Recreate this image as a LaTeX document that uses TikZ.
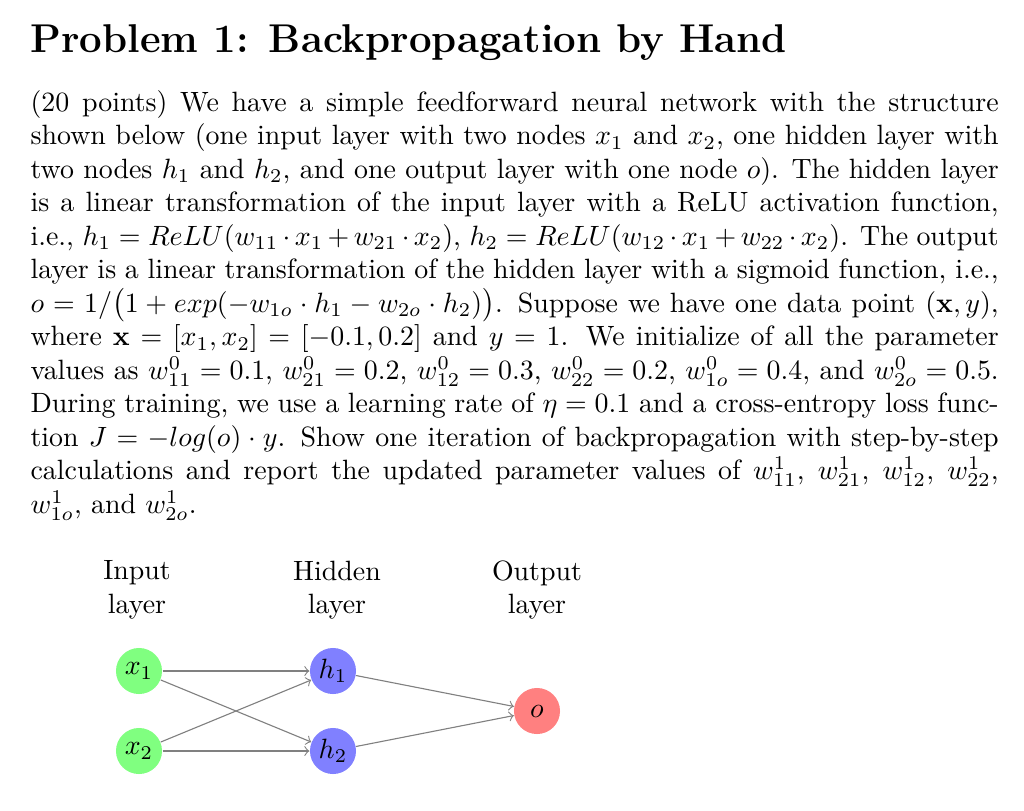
\documentclass[tikz,border=0pt]{standalone}
\usepackage{amsmath}
\begin{document}
\begin{tikzpicture}[x=0.3584pt,y=-0.3584pt,
  neuron/.style={circle,minimum size=16.5pt,inner sep=0pt},
  inp/.style={neuron,fill=green!50},
  hid/.style={neuron,fill=blue!50},
  outp/.style={neuron,fill=red!50},
  conn/.style={->,gray,line width=0.4pt},
  lbl/.style={align=center,font=\normalsize}]
\useasboundingbox (0,0) rectangle (1024,810);
\node[anchor=base west,inner sep=0pt,font=\Large\bfseries] (title) at (30,52) {Problem 1: Backpropagation by Hand};
\node[anchor=north west,inner sep=0pt,text width=347pt,align=justify] (body) at (30,90) {%
(20 points) We have a simple feedforward neural network with the structure\linebreak
shown below (one input layer with two nodes $x_1$ and $x_2$, one hidden layer with\linebreak
two nodes $h_1$ and $h_2$, and one output layer with one node $o$). The hidden layer\linebreak
is a linear transformation of the input layer with a ReLU activation function,\linebreak
i.e., $h_1 = ReLU(w_{11}\cdot x_1 + w_{21}\cdot x_2)$, $h_2 = ReLU(w_{12}\cdot x_1 + w_{22}\cdot x_2)$. The output\linebreak
layer is a linear transformation of the hidden layer with a sigmoid function, i.e.,\linebreak
$o = 1/\big(1+exp(-w_{1o}\cdot h_1 - w_{2o}\cdot h_2)\big)$. Suppose we have one data point $(\mathbf{x},y)$,\linebreak
where $\mathbf{x}=[x_1,x_2]=[-0.1,0.2]$ and $y=1$. We initialize of all the parameter\linebreak
values as $w_{11}^0=0.1$, $w_{21}^0=0.2$, $w_{12}^0=0.3$, $w_{22}^0=0.2$, $w_{1o}^0=0.4$, and $w_{2o}^0=0.5$.\linebreak
During training, we use a learning rate of $\eta=0.1$ and a cross-entropy loss func-\linebreak
tion $J=-log(o)\cdot y$. Show one iteration of backpropagation with step-by-step\linebreak
calculations and report the updated parameter values of $w_{11}^1$, $w_{21}^1$, $w_{12}^1$, $w_{22}^1$,\linebreak
$w_{1o}^1$, and $w_{2o}^1$.};
\node[lbl] (li) at (137,590) {Input\\layer};
\node[lbl] (lh) at (337,590) {Hidden\\layer};
\node[lbl] (lo) at (537,590) {Output\\layer};
\node[inp] (x1) at (139,671) {$x_1$};
\node[inp] (x2) at (139,751) {$x_2$};
\node[hid] (h1) at (333,671) {$h_1$};
\node[hid] (h2) at (333,751) {$h_2$};
\node[outp] (o) at (537,711) {$o$};
\foreach \a in {x1,x2}{\foreach \b in {h1,h2}{\draw[conn] (\a) -- (\b);}}
\foreach \a in {h1,h2}{\draw[conn] (\a) -- (o);}
\end{tikzpicture}
\end{document}
